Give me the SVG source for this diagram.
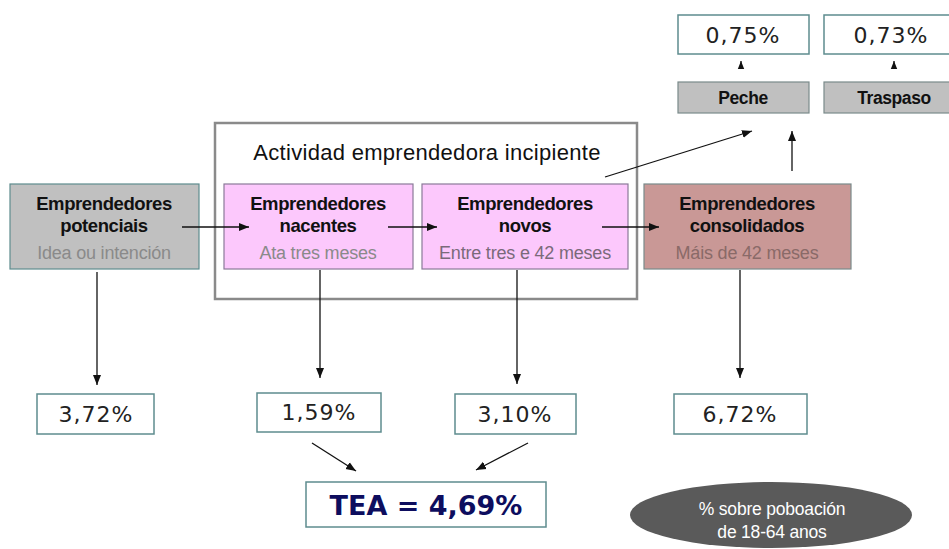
<svg xmlns="http://www.w3.org/2000/svg" width="949" height="549" viewBox="0 0 949 549">
<defs>
<marker id="ah" viewBox="0 0 10 10" refX="10" refY="5" markerWidth="10" markerHeight="10" markerUnits="userSpaceOnUse" orient="auto">
<path d="M0,1 L10,5 L0,9 Z" fill="#111"/>
</marker>
<marker id="ahs" viewBox="0 0 10 10" refX="10" refY="5" markerWidth="8" markerHeight="8" markerUnits="userSpaceOnUse" orient="auto">
<path d="M0,1 L10,5 L0,9 Z" fill="#111"/>
</marker>
</defs>
<style>
.bt{font-family:"Liberation Sans",Arial,sans-serif;font-size:18.5px;font-weight:bold;fill:#111;text-anchor:middle;letter-spacing:-0.4px}
.st{font-family:"Liberation Sans",Arial,sans-serif;font-size:18px;fill:#8a8a8a;text-anchor:middle;letter-spacing:-0.2px}
.pct{font-family:"DejaVu Sans",Verdana,sans-serif;font-size:22px;fill:#222;text-anchor:middle;letter-spacing:1px}
.pbox{fill:#fff;stroke:#5e8c8e;stroke-width:1.5}
.gray{fill:#c0c0c0;stroke:#5e8c8e;stroke-width:1.2}
.pink{fill:#fcc8fc;stroke:#8a7a98;stroke-width:1.2}
.con{stroke:#111;stroke-width:1.3;fill:none}
</style>
<rect width="949" height="549" fill="#fff"/>

<g id="incipiente">
<rect x="215" y="123" width="422" height="176" fill="none" stroke="#8a8a8a" stroke-width="2.5"/>
<text x="427" y="160" font-family="Liberation Sans,Arial,sans-serif" font-size="22" fill="#111" text-anchor="middle" letter-spacing="0.3">Actividad emprendedora incipiente</text>
</g>

<g id="potenciais">
<rect class="gray" x="10" y="184" width="189" height="85"/>
<text class="bt" x="104" y="210">Emprendedores</text>
<text class="bt" x="104" y="232">potenciais</text>
<text class="st" x="104" y="259">Idea ou intención</text>
</g>

<g id="nacentes">
<rect class="pink" x="224" y="184" width="189" height="85"/>
<text class="bt" x="318" y="210">Emprendedores</text>
<text class="bt" x="318" y="232">nacentes</text>
<text class="st" x="318" y="259">Ata tres meses</text>
</g>

<g id="novos">
<rect class="pink" x="422" y="184" width="206" height="85"/>
<text class="bt" x="525" y="210">Emprendedores</text>
<text class="bt" x="525" y="232">novos</text>
<text class="st" x="525" y="259" style="fill:#7a6a7a">Entre tres e 42 meses</text>
</g>

<g id="consolidados">
<rect x="644" y="184" width="207" height="85" fill="#c99896" stroke="#7a8a8a" stroke-width="1.2"/>
<text class="bt" x="747" y="210">Emprendedores</text>
<text class="bt" x="747" y="232">consolidados</text>
<text class="st" x="747" y="259" style="fill:#8a6a68">Máis de 42 meses</text>
</g>

<g id="peche">
<rect class="gray" x="678" y="82" width="131" height="31" style="stroke:#7a8a8a"/>
<text class="bt" x="743" y="104" style="font-size:17.5px">Peche</text>
</g>
<g id="traspaso">
<rect class="gray" x="824" y="82" width="126" height="31" style="stroke:#7a8a8a"/>
<text class="bt" x="894" y="104" style="font-size:17.5px">Traspaso</text>
</g>

<g id="p075">
<rect class="pbox" x="678" y="15" width="131" height="39"/>
<text class="pct" x="743" y="43">0,75%</text>
</g>
<g id="p073">
<rect class="pbox" x="824" y="15" width="126" height="39"/>
<text class="pct" x="891" y="43">0,73%</text>
</g>

<g id="p372">
<rect class="pbox" x="37" y="394" width="117" height="40"/>
<text class="pct" x="96" y="422">3,72%</text>
</g>
<g id="p159">
<rect class="pbox" x="257" y="393" width="124" height="39"/>
<text class="pct" x="319" y="420">1,59%</text>
</g>
<g id="p310">
<rect class="pbox" x="455" y="394" width="121" height="40"/>
<text class="pct" x="515" y="422">3,10%</text>
</g>
<g id="p672">
<rect class="pbox" x="674" y="394" width="133" height="40"/>
<text class="pct" x="740" y="422">6,72%</text>
</g>

<g id="tea">
<rect class="pbox" x="306" y="482" width="240" height="45"/>
<text x="426" y="515" font-family="DejaVu Sans,Verdana,sans-serif" font-size="27" font-weight="bold" fill="#0d0d5e" text-anchor="middle">TEA = 4,69%</text>
</g>

<g id="nota">
<ellipse cx="771" cy="515" rx="141" ry="33" fill="#5a5a5a"/>
<text x="772" y="515" font-family="Liberation Sans,Arial,sans-serif" font-size="17.5" fill="#fff" text-anchor="middle" letter-spacing="-0.2">% sobre poboación</text>
<text x="772" y="538" font-family="Liberation Sans,Arial,sans-serif" font-size="17.5" fill="#fff" text-anchor="middle" letter-spacing="-0.2">de 18-64 anos</text>
</g>

<g id="connectors">
<line class="con" x1="182" y1="227" x2="249" y2="227" marker-end="url(#ah)"/>
<line class="con" x1="388" y1="227" x2="437" y2="227" marker-end="url(#ah)"/>
<line class="con" x1="602" y1="227" x2="659" y2="227" marker-end="url(#ah)"/>
<line class="con" x1="605" y1="177" x2="752" y2="131" marker-end="url(#ah)"/>
<line class="con" x1="792" y1="171" x2="792" y2="131" marker-end="url(#ah)"/>
<line class="con" x1="741" y1="69" x2="741" y2="61" marker-end="url(#ahs)"/>
<line class="con" x1="894" y1="69" x2="894" y2="61" marker-end="url(#ahs)"/>
<line class="con" x1="97" y1="272" x2="97" y2="385" marker-end="url(#ah)"/>
<line class="con" x1="320" y1="270" x2="320" y2="378" marker-end="url(#ah)"/>
<line class="con" x1="517" y1="270" x2="517" y2="384" marker-end="url(#ah)"/>
<line class="con" x1="740" y1="270" x2="740" y2="378" marker-end="url(#ah)"/>
<line class="con" x1="312" y1="443" x2="356" y2="471" marker-end="url(#ah)"/>
<line class="con" x1="528" y1="443" x2="476" y2="470" marker-end="url(#ah)"/>
</g>
</svg>
